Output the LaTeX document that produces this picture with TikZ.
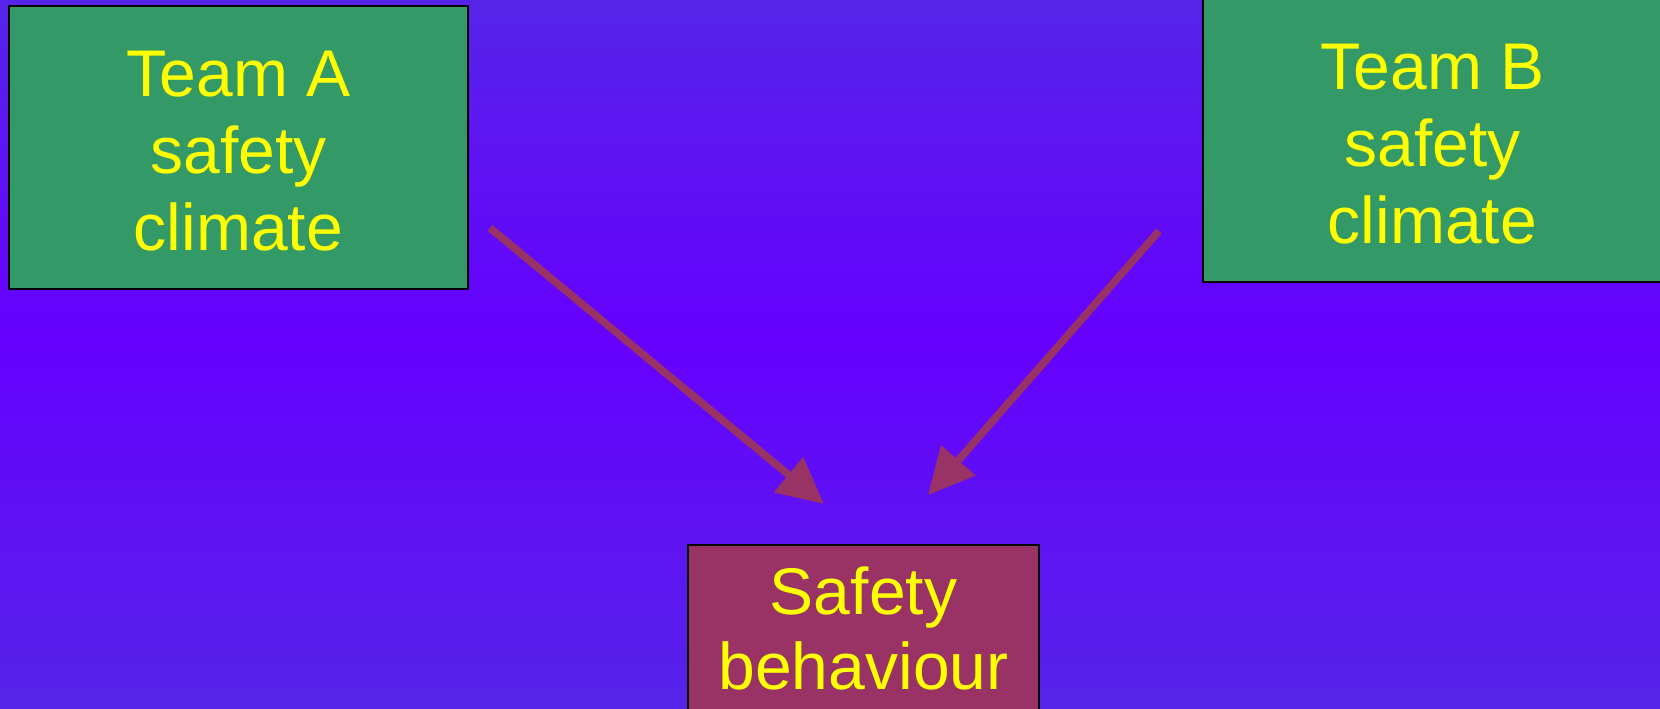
\documentclass[tikz,border=0pt]{standalone}
\usepackage{fontspec}
\setmainfont{Liberation Sans}
\usetikzlibrary{arrows.meta}
\definecolor{bgedge}{HTML}{5624E8}
\definecolor{bgmid}{HTML}{6600FF}
\definecolor{climgreen}{HTML}{339966}
\definecolor{behred}{HTML}{993366}
\definecolor{txtyellow}{HTML}{FFFF00}
\tikzset{
  cbox/.style = {draw=black, line width=2pt, fill=climgreen, text=txtyellow,
                 align=center, inner sep=0pt, minimum width=459pt,
                 minimum height=283pt, font=\fontsize{66}{77}\selectfont},
  bbox/.style = {cbox, fill=behred, minimum width=351pt, minimum height=166pt,
                 font=\fontsize{66}{75}\selectfont},
  link/.style = {draw=behred, line width=7.5pt,
                 -{Triangle[length=46pt,width=44pt]}},
}
\begin{document}
\begin{tikzpicture}[x=1pt,y=-1pt]
  \useasboundingbox (0,0) rectangle (1660,709);
  % background
  \shade[top color=bgedge, bottom color=bgmid] (0,0) rectangle (1660,340);
  \shade[top color=bgmid, bottom color=bgedge] (0,340) rectangle (1660,709);
  % boxes
  \node[cbox] (teamA) at (238.5,147.5) {\rule{0pt}{53pt}Team A\\safety\\climate};
  \node[cbox] (teamB) at (1432.5,140.5) {\rule{0pt}{53pt}Team B\\safety\\climate};
  \node[bbox] (behav) at (863.5,628) {Safety\\behaviour};
  % arrows
  \coordinate (a1) at (490,228);
  \coordinate (a2) at (824,504);
  \coordinate (b1) at (1159,231);
  \coordinate (b2) at (928,495);
  \draw[link] (a1) -- (a2);
  \draw[link] (b1) -- (b2);
\end{tikzpicture}
\end{document}
